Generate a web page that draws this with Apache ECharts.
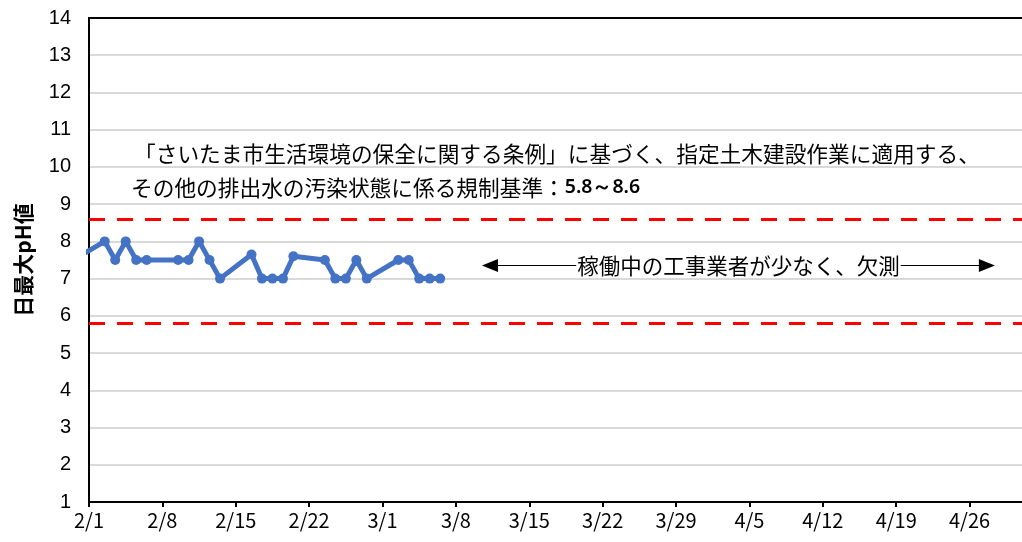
<!DOCTYPE html>
<html>
<head>
<meta charset="utf-8">
<script src="https://cdn.jsdelivr.net/npm/echarts@6/dist/echarts.min.js"></script>
<style>
html,body{margin:0;padding:0;background:#fff;}
#chart{width:1022px;height:542px;}
</style>
</head>
<body>
<div id="chart"></div>
<script>
// ---- data ----
const YEAR = 2015;
const startDate = '2/1';
const endDate = '5/1';
const dates = ['1/30','2/2','2/3','2/4','2/5','2/6','2/9','2/10','2/11','2/12','2/13',
  '2/16','2/17','2/18','2/19','2/20','2/23','2/24','2/25','2/26','2/27',
  '3/2','3/3','3/4','3/5','3/6'];
const phMax = [7.5, 8.0, 7.5, 8.0, 7.5, 7.5, 7.5, 7.5, 8.0, 7.5, 7.0,
  7.65, 7.0, 7.0, 7.0, 7.6, 7.5, 7.0, 7.0, 7.5, 7.0,
  7.5, 7.5, 7.0, 7.0, 7.0];
const upperLimit = 8.6;
const lowerLimit = 5.8;
const yTitle = '日最大pH値';
const note1 = '「さいたま市生活環境の保全に関する条例」に基づく、指定土木建設作業に適用する、';
const note2a = 'その他の排出水の汚染状態に係る規制基準：';
const note2b = '5.8～8.6';
const gapNote = '稼働中の工事業者が少なく、欠測';

// ---- helpers ----
const DAY = 86400000;
function toUTC(md){ const [m,d] = md.split('/').map(Number); return Date.UTC(YEAR, m-1, d); }
const t0 = toUTC(startDate);
function dayIndex(md){ return (toUTC(md) - t0) / DAY; }
const seriesData = dates.map((d,i) => [dayIndex(d) + 0.5, phMax[i]]);
const xMax = dayIndex(endDate);

// annotation placement (days from 2/1, pH)
const arrowFrom = 38.25, arrowTo = 85.65, arrowY = 7.35;

const chart = echarts.init(document.getElementById('chart'));
const cjk = '"Noto Sans CJK JP"';
chart.setOption({
  animation:false,
  backgroundColor:'#fff',
  grid:{left:89, right:-4, top:18, bottom:40},
  xAxis:[{
    type:'value', min:0, max:xMax, interval:7,
    axisLine:{show:true, lineStyle:{color:'#000', width:2}},
    axisTick:{show:true, length:5, lineStyle:{color:'#000', width:2}},
    axisLabel:{show:true, showMaxLabel:false, color:'#000', fontSize:20, fontFamily:cjk, margin:8,
      formatter:v => { if (v % 7 !== 0) return ''; const dt = new Date(t0 + v*DAY); return (dt.getUTCMonth()+1)+'/'+dt.getUTCDate(); }},
    splitLine:{show:false}
  },{
    type:'value', position:'top', min:0, max:xMax,
    axisLine:{show:true, onZero:false, lineStyle:{color:'#000', width:2}},
    axisTick:{show:false}, axisLabel:{show:false}, splitLine:{show:false}
  }],
  yAxis:{
    type:'value', min:1, max:14, interval:1,
    name:yTitle, nameLocation:'middle', nameRotate:90, nameGap:55,
    nameTextStyle:{color:'#000', fontSize:21, fontFamily:cjk, fontWeight:'bold'},
    axisLine:{show:true, lineStyle:{color:'#000', width:2}},
    axisTick:{show:false},
    axisLabel:{color:'#000', fontSize:20, fontFamily:'"Liberation Sans", Arial', margin:18},
    splitLine:{show:true, lineStyle:{color:'#D9D9D9', width:2}}
  },
  series:[{
    type:'line',
    data:seriesData,
    symbol:'circle', symbolSize:10, showAllSymbol:true,
    lineStyle:{color:'#4472C4', width:5},
    itemStyle:{color:'#4472C4'},
    clip:true, z:5
  },{
    type:'line', data:[], silent:true,
    markLine:{
      silent:true, symbol:'none', animation:false,
      label:{show:false},
      lineStyle:{color:'#FF0000', width:3, type:[16,12]},
      data:[{yAxis:upperLimit},{yAxis:lowerLimit}]
    }
  },{
    type:'line', data:[], silent:true,
    markLine:{
      silent:true, animation:false,
      symbol:['triangle','triangle'], symbolSize:[13,16],
      lineStyle:{color:'#000', width:1, type:'solid'},
      label:{show:false},
      data:[[{coord:[arrowFrom, arrowY]},{coord:[arrowTo, arrowY]}]]
    },
    markPoint:{
      silent:true, animation:false,
      symbol:'rect', symbolSize:1, itemStyle:{color:'rgba(0,0,0,0)'},
      label:{show:true, position:'inside', formatter:gapNote, color:'#000', fontSize:21.5, fontFamily:cjk,
        backgroundColor:'#fff', padding:[0,1]},
      data:[{coord:[(arrowFrom+arrowTo)/2, arrowY]}]
    }
  }],
  graphic:[{
    type:'text', left:134, top:143, z:10,
    style:{text:note1, font:'21.7px ' + cjk, fill:'#000', backgroundColor:'#fff'}
  },{
    type:'text', left:131, top:177, z:10,
    style:{text:'{a|'+note2a+'}{b|'+note2b+'}', fill:'#000', backgroundColor:'#fff',
      rich:{a:{fontSize:21.7, fontFamily:cjk, fill:'#000'}, b:{fontSize:19.5, fontFamily:'"Noto Sans"', fontWeight:600, fill:'#000'}}}
  }]
});
</script>
</body>
</html>
